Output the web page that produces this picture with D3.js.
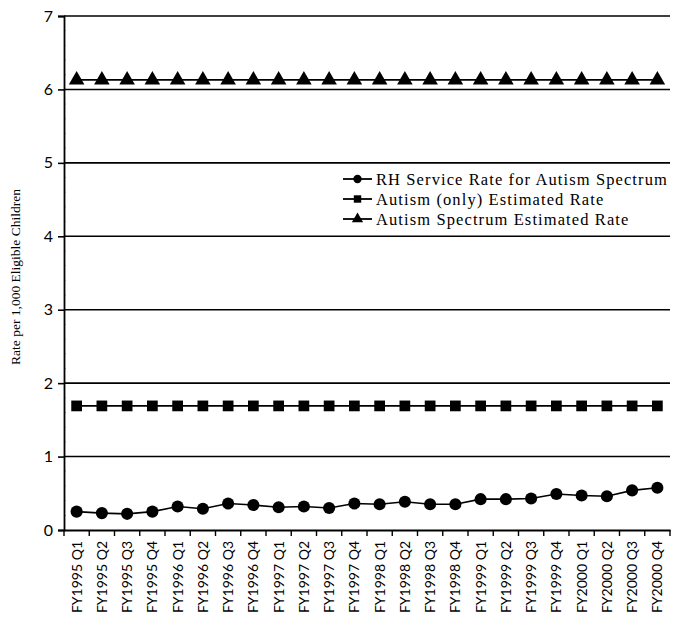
<!DOCTYPE html>
<html><head><meta charset="utf-8">
<script src="https://cdn.jsdelivr.net/npm/d3@7"></script>
<style>body{margin:0;background:#fff}svg{display:block}</style>
</head><body>
<svg id="c" width="677" height="619"></svg>
<script>
const categories = ["FY1995 Q1","FY1995 Q2","FY1995 Q3","FY1995 Q4","FY1996 Q1","FY1996 Q2","FY1996 Q3","FY1996 Q4","FY1997 Q1","FY1997 Q2","FY1997 Q3","FY1997 Q4","FY1998 Q1","FY1998 Q2","FY1998 Q3","FY1998 Q4","FY1999 Q1","FY1999 Q2","FY1999 Q3","FY1999 Q4","FY2000 Q1","FY2000 Q2","FY2000 Q3","FY2000 Q4"];
const rhService = [0.25,0.23,0.22,0.25,0.32,0.29,0.36,0.34,0.31,0.32,0.30,0.36,0.35,0.385,0.35,0.35,0.42,0.42,0.43,0.49,0.47,0.46,0.54,0.575];
const autismOnly = [1.69,1.69,1.69,1.69,1.69,1.69,1.69,1.69,1.69,1.69,1.69,1.69,1.69,1.69,1.69,1.69,1.69,1.69,1.69,1.69,1.69,1.69,1.69,1.69];
const autismSpectrum = [6.13,6.13,6.13,6.13,6.13,6.13,6.13,6.13,6.13,6.13,6.13,6.13,6.13,6.13,6.13,6.13,6.13,6.13,6.13,6.13,6.13,6.13,6.13,6.13];
const yTicks = [0,1,2,3,4,5,6,7];
const seriesNames = ["RH Service Rate for Autism Spectrum","Autism (only) Estimated Rate","Autism Spectrum Estimated Rate"];
const yLabel = "Rate per 1,000 Eligible Children";

const svg = d3.select("#c");
const L = 64, R = 670, T = 16, B = 530;
const x = d3.scaleBand().domain(categories).range([L, R]).padding(0);
const y = d3.scaleLinear().domain([0, 7]).range([B, T]);
const cx = d => x(d) + x.bandwidth() / 2;

// gridlines
svg.append("g").selectAll("line").data(yTicks.filter(t => t > 0)).join("line")
  .attr("x1", L).attr("x2", R).attr("y1", d => y(d)).attr("y2", d => y(d))
  .attr("stroke", "#000").attr("stroke-width", 1.6);

// minor ticks inside
const minor = d3.range(0, 7.001, 0.2).filter(v => Math.abs(v - Math.round(v)) > 0.01);
svg.append("g").selectAll("line").data(minor).join("line")
  .attr("x1", L).attr("x2", L + 2).attr("y1", d => y(d)).attr("y2", d => y(d))
  .attr("stroke", "#000").attr("stroke-width", 0.6).attr("opacity", 0.5);

// y axis
const ya = svg.append("g").attr("transform", `translate(${L},0)`)
  .call(d3.axisLeft(y).tickValues(yTicks).tickSize(6).tickPadding(5).tickFormat(d3.format("d")));
ya.select(".domain").attr("stroke-width", 1.8);
ya.selectAll(".tick line").attr("stroke-width", 1.6);
ya.selectAll("text").attr("font-family", "Lato, 'Open Sans', sans-serif").attr("font-size", 16).attr("fill", "#000");

// x axis
const xa = svg.append("g").attr("transform", `translate(0,${B})`)
  .call(d3.axisBottom(x).tickSize(0).tickFormat(d => d));
xa.select(".domain").attr("stroke-width", 1.8);
xa.selectAll(".tick text")
  .attr("font-family", "Lato, 'Open Sans', sans-serif").attr("font-size", 14).attr("fill", "#000")
  .attr("text-anchor", "end").attr("transform", "rotate(-90)")
  .attr("x", -11).attr("y", 0).attr("dy", "0.35em");
// boundary ticks
svg.append("g").selectAll("line").data(categories).join("line")
  .attr("x1", d => x(d)).attr("x2", d => x(d)).attr("y1", B).attr("y2", B + 6)
  .attr("stroke", "#000").attr("stroke-width", 1.4);
svg.append("line").attr("x1", R).attr("x2", R).attr("y1", B).attr("y2", B + 6)
  .attr("stroke", "#000").attr("stroke-width", 1.4);

// y label
svg.append("text").attr("transform", `translate(20,${(T + B) / 2 + 4}) rotate(-90)`)
  .attr("text-anchor", "middle").attr("font-family", "'Liberation Serif', serif")
  .attr("font-size", 13.5).text(yLabel);

const line = d3.line().x((d, i) => cx(categories[i])).y(d => y(d));
const sym = {
  circle: d3.symbol().type(d3.symbolCircle).size(115),
  square: d3.symbol().type(d3.symbolSquare).size(115),
  triangle: d3.symbol().type(d3.symbolTriangle).size(105)
};
const series = [
  {name: seriesNames[0], data: rhService, s: sym.circle},
  {name: seriesNames[1], data: autismOnly, s: sym.square},
  {name: seriesNames[2], data: autismSpectrum, s: sym.triangle}
];
series.forEach(se => {
  svg.append("path").attr("d", line(se.data)).attr("fill", "none").attr("stroke", "#000").attr("stroke-width", 1.6);
  svg.append("g").selectAll("path").data(se.data).join("path")
    .attr("d", se.s).attr("transform", (d, i) => `translate(${cx(categories[i])},${y(d)})`)
    .attr("fill", "#000");
});

// legend
const lg = svg.append("g");
series.forEach((se, i) => {
  const ly = 179 + i * 20;
  lg.append("line").attr("x1", 343).attr("x2", 372).attr("y1", ly).attr("y2", ly).attr("stroke", "#000").attr("stroke-width", 1.8);
  lg.append("path").attr("d", d3.symbol().type([d3.symbolCircle, d3.symbolSquare, d3.symbolTriangle][i]).size(55)())
    .attr("transform", `translate(357.5,${ly})`).attr("fill", "#000");
  lg.append("text").attr("x", 376).attr("y", ly).attr("dy", "0.35em")
    .attr("font-family", "'Liberation Serif', serif").attr("font-size", 16.5)
    .attr("letter-spacing", 1.1).text(se.name);
});
</script>
</body></html>
